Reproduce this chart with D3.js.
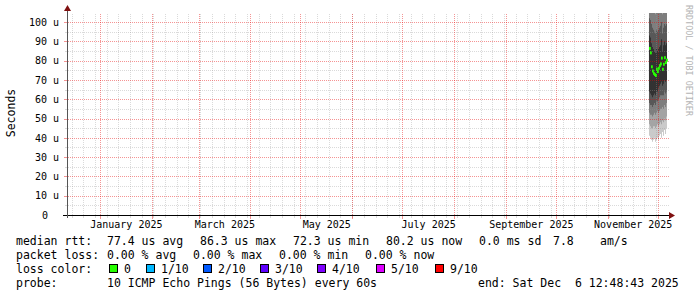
<!DOCTYPE html>
<html>
<head>
<meta charset="utf-8">
<script src="https://cdn.jsdelivr.net/npm/d3@7"></script>
<style>
  body { margin: 0; background: #fff; }
  svg text { font-family: "DejaVu Sans Mono", monospace; fill: #000; white-space: pre; }
</style>
</head>
<body>
<svg id="chart" width="697" height="297"></svg>
<script>
// smokeping detail graph (~360 days), rrdtool look

const startTime = "2024-12-12T06:00:00";
const endTime = "2025-12-06T12:48:43";

const yTicks = [0, 10, 20, 30, 40, 50, 60, 70, 80, 90, 100];
const yMinor = [5, 15, 25, 35, 45, 55, 65, 75, 85, 95];
const labelMonths = ["2025-01-01", "2025-03-01", "2025-05-01", "2025-07-01", "2025-09-01", "2025-11-01"];

// one column per pixel, 14.4h each
const colTimes = [
  "2025-11-25T18:00", "2025-11-26T08:24", "2025-11-26T22:48", "2025-11-27T13:12",
  "2025-11-28T03:36", "2025-11-28T18:00", "2025-11-29T08:24", "2025-11-29T22:48",
  "2025-11-30T13:12", "2025-12-01T03:36", "2025-12-01T18:00", "2025-12-02T08:24",
  "2025-12-02T22:48", "2025-12-03T13:12", "2025-12-04T03:36", "2025-12-04T18:00",
  "2025-12-05T08:24", "2025-12-05T22:48"
];
const colEnd = "2025-12-06T13:12";

// median rtt, microseconds
const median = [86.3, 84.0, 76.8, 74.6, 73.4, 72.8, 72.3, 75.6, 74.3,
                76.0, 77.4, 78.3, 81.3, 75.5, 78.1, 81.5, 79.0, 80.2];

// 10 sorted pings per column, microseconds
const pings = [
  [41, 47, 53, 58, 64, 93, 102, 112, 120, 128],
  [40, 46, 52, 57, 63, 92, 101, 111, 119, 127],
  [39, 45, 52, 57, 62, 89, 99, 109, 117, 125],
  [38, 45, 51, 56, 61, 87, 97, 107, 115, 123],
  [39, 46, 52, 57, 62, 86, 96, 106, 114, 122],
  [40, 46, 53, 58, 63, 85, 95, 105, 113, 121],
  [38, 45, 52, 57, 62, 84, 94, 104, 112, 120],
  [39, 46, 53, 59, 64, 86, 96, 106, 114, 122],
  [40, 47, 54, 59, 64, 85, 95, 105, 113, 121],
  [39, 46, 53, 60, 66, 86, 96, 106, 114, 122],
  [41, 47, 54, 61, 67, 87, 97, 107, 115, 123],
  [42, 48, 55, 62, 68, 88, 98, 108, 116, 124],
  [40, 47, 55, 62, 69, 91, 100, 110, 118, 126],
  [43, 49, 56, 62, 67, 85, 94, 104, 112, 120],
  [41, 48, 55, 62, 68, 88, 97, 107, 115, 123],
  [44, 50, 57, 64, 70, 90, 99, 109, 117, 125],
  [42, 49, 56, 63, 69, 88, 98, 108, 116, 124],
  [45, 51, 58, 64, 70, 89, 99, 109, 117, 125]
];

const rttLegend = ["median rtt:", "77.4 us avg", "86.3 us max", "72.3 us min", "80.2 us now", "0.0 ms sd", "7.8", "am/s"];
const lossLegend = ["packet loss:", "0.00 % avg", "0.00 % max", "0.00 % min", "0.00 % now"];
const lossLabels = ["0", "1/10", "2/10", "3/10", "4/10", "5/10", "9/10"];
const probeText = "10 ICMP Echo Pings (56 Bytes) every 60s";
const endText = "end: Sat Dec  6 12:48:43 2025";

// layout
const rttX = [16, 107, 200, 293, 386, 479, 553, 600];
const lossX = [16, 107, 193, 279, 365];
const boxX = [109, 146, 203, 260, 317, 376, 435];
const lossPalette = ["#26ff00", "#00b8ff", "#0059ff", "#5e00ff", "#7e00ff", "#dd00ff", "#ff0000"];
const smokeGrays = ["#cacaca", "#a4a4a4", "#7e7e7e", "#585858", "#323232"];
const gridColor = "rgba(150,150,150,0.35)";
const mgridColor = "rgba(230,0,0,0.42)";
const arrowColor = "#7f1010";

const plotLeft = 67, plotRight = 667, plotTop = 13, plotBottom = 215;
const parse = d3.isoParse;

const svg = d3.select("#chart");
const defs = svg.append("defs");

const x = d3.scaleTime()
    .domain([parse(startTime), parse(endTime)])
    .range([plotLeft, plotRight]);

const y = d3.scaleLinear()
    .domain([0, 100])
    .range([plotBottom, 22]);

defs.append("clipPath").attr("id", "plot")
    .append("rect").attr("x", plotLeft).attr("y", plotTop)
    .attr("width", plotRight - plotLeft).attr("height", plotBottom - plotTop);

// 1px on / 1px off dot patterns for the grid
function dotPattern(id, color, w, h) {
    let p = defs.append("pattern").attr("id", id)
        .attr("patternUnits", "userSpaceOnUse")
        .attr("x", 0).attr("y", 0)
        .attr("width", w).attr("height", h);
    p.append("rect").attr("width", 1).attr("height", 1).attr("fill", color);
}
dotPattern("hMinor", gridColor, 2, 1);
dotPattern("vMinor", gridColor, 1, 2);
dotPattern("hMajor", mgridColor, 2, 1);
dotPattern("vMajor", mgridColor, 1, 2);

// smoke
let cols = colTimes.map((t, i) => ({ t: parse(t), p: pings[i], m: median[i] }));
let smokeData = cols.concat([{ t: parse(colEnd), p: pings[pings.length - 1] }]);

let smoke = svg.append("g").attr("clip-path", "url(#plot)");
for (let b = 0; b < 5; b++) {
    let area = d3.area()
        .curve(d3.curveStepAfter)
        .x((d) => x(d.t))
        .y0((d) => y(d.p[b]))
        .y1((d) => y(d.p[9 - b]));
    smoke.append("path")
        .datum(smokeData)
        .attr("d", area)
        .attr("fill", smokeGrays[b]);
}

// grid
let grid = svg.append("g").attr("shape-rendering", "crispEdges");

function hLine(v, pat, color, tick) {
    let yv = Math.round(y(v));
    grid.append("rect")
        .attr("x", plotLeft + 1).attr("y", yv)
        .attr("width", plotRight + 2 - plotLeft - 1).attr("height", 1)
        .attr("fill", `url(#${pat})`);
    grid.append("rect")
        .attr("x", plotLeft - tick).attr("y", yv)
        .attr("width", tick).attr("height", 1)
        .attr("fill", color);
}

function vLine(d, pat, color, tick) {
    let xv = Math.round(x(d));
    grid.append("rect")
        .attr("x", xv).attr("y", plotTop)
        .attr("width", 1).attr("height", plotBottom - plotTop)
        .attr("fill", `url(#${pat})`);
    grid.append("rect")
        .attr("x", xv).attr("y", plotBottom + 1)
        .attr("width", 1).attr("height", tick)
        .attr("fill", color);
}

let [t0, t1] = x.domain();
d3.timeWeek.range(t0, t1).forEach((d) => vLine(d, "vMinor", gridColor, 2));
yMinor.forEach((v) => hLine(v, "hMinor", gridColor, 2));
d3.timeMonth.range(t0, t1).forEach((d) => vLine(d, "vMajor", mgridColor, 3));
yTicks.filter((v) => v > 0).forEach((v) => hLine(v, "hMajor", mgridColor, 3));

// median, coloured by loss (all 0 here)
svg.append("g").selectAll("rect")
    .data(cols)
    .enter()
    .append("rect")
    .attr("x", (d) => x(d.t))
    .attr("width", (d, i) => x(parse(i + 1 < colTimes.length ? colTimes[i + 1] : colEnd)) - x(d.t) + 0.8)
    .attr("y", (d) => y(d.m) - 1.5)
    .attr("height", 3)
    .attr("fill", lossPalette[0]);

// axes lines + arrows
svg.append("line")
    .attr("x1", plotLeft - 4).attr("x2", plotRight + 3)
    .attr("y1", plotBottom + 0.5).attr("y2", plotBottom + 0.5)
    .attr("stroke", "#000");
svg.append("line")
    .attr("x1", plotLeft + 0.5).attr("x2", plotLeft + 0.5)
    .attr("y1", plotBottom + 3).attr("y2", plotTop - 2)
    .attr("stroke", "#555");
svg.append("path")
    .attr("d", `M${plotRight + 2},${plotBottom - 3}L${plotRight + 8},${plotBottom + 0.5}L${plotRight + 2},${plotBottom + 4}Z`)
    .attr("fill", arrowColor);
svg.append("path")
    .attr("d", `M${plotLeft - 3},${plotTop - 2}L${plotLeft + 0.5},${plotTop - 8}L${plotLeft + 4},${plotTop - 2}Z`)
    .attr("fill", arrowColor);

// y axis labels
let gy = svg.append("g")
    .attr("transform", `translate(${plotLeft},0)`)
    .call(d3.axisLeft(y).tickValues(yTicks).tickSize(0).tickPadding(8)
        .tickFormat((d) => d === 0 ? "0" : d + " u"));
gy.select(".domain").remove();
gy.selectAll("text")
    .style("font-family", "'DejaVu Sans Mono', monospace")
    .style("font-size", "10px")
    .attr("dx", (d) => d === 0 ? -11 : 0);

// x axis labels, centred mid-month
let labelDates = labelMonths.map((m) => {
    let a = parse(m);
    let b = d3.timeMonth.offset(a, 1);
    return new Date((a.getTime() + b.getTime()) / 2);
});
let gx = svg.append("g")
    .attr("transform", `translate(0,${plotBottom})`)
    .call(d3.axisBottom(x).tickValues(labelDates).tickSize(0).tickPadding(6)
        .tickFormat(d3.timeFormat("%B %Y")));
gx.select(".domain").remove();
gx.selectAll("text")
    .style("font-family", "'DejaVu Sans Mono', monospace")
    .style("font-size", "10px");

// y title
svg.append("text")
    .attr("transform", "translate(15,113) rotate(-90)")
    .attr("text-anchor", "middle")
    .style("font-size", "11.5px")
    .text("Seconds");

// watermark
svg.append("text")
    .attr("transform", "translate(686,5) rotate(90)")
    .style("font-size", "8.4px")
    .style("fill", "#b4b4b4")
    .text("RRDTOOL / TOBI OETIKER");

// legend
let legend = svg.append("g").style("font-size", "11.5px");

rttLegend.forEach((s, i) => {
    legend.append("text").attr("x", rttX[i]).attr("y", 245).text(s);
});
lossLegend.forEach((s, i) => {
    legend.append("text").attr("x", lossX[i]).attr("y", 259).text(s);
});
legend.append("text").attr("x", 16).attr("y", 273).text("loss color:");
lossLabels.forEach((s, i) => {
    legend.append("rect")
        .attr("x", boxX[i] + 0.5).attr("y", 264.5)
        .attr("width", 8).attr("height", 8)
        .attr("fill", lossPalette[i])
        .attr("stroke", "#000");
    legend.append("text").attr("x", boxX[i] + 15).attr("y", 273).text(s);
});
legend.append("text").attr("x", 16).attr("y", 287).text("probe:");
legend.append("text").attr("x", 107).attr("y", 287).text(probeText);
legend.append("text").attr("x", 478).attr("y", 287).text(endText);
</script>
</body>
</html>
